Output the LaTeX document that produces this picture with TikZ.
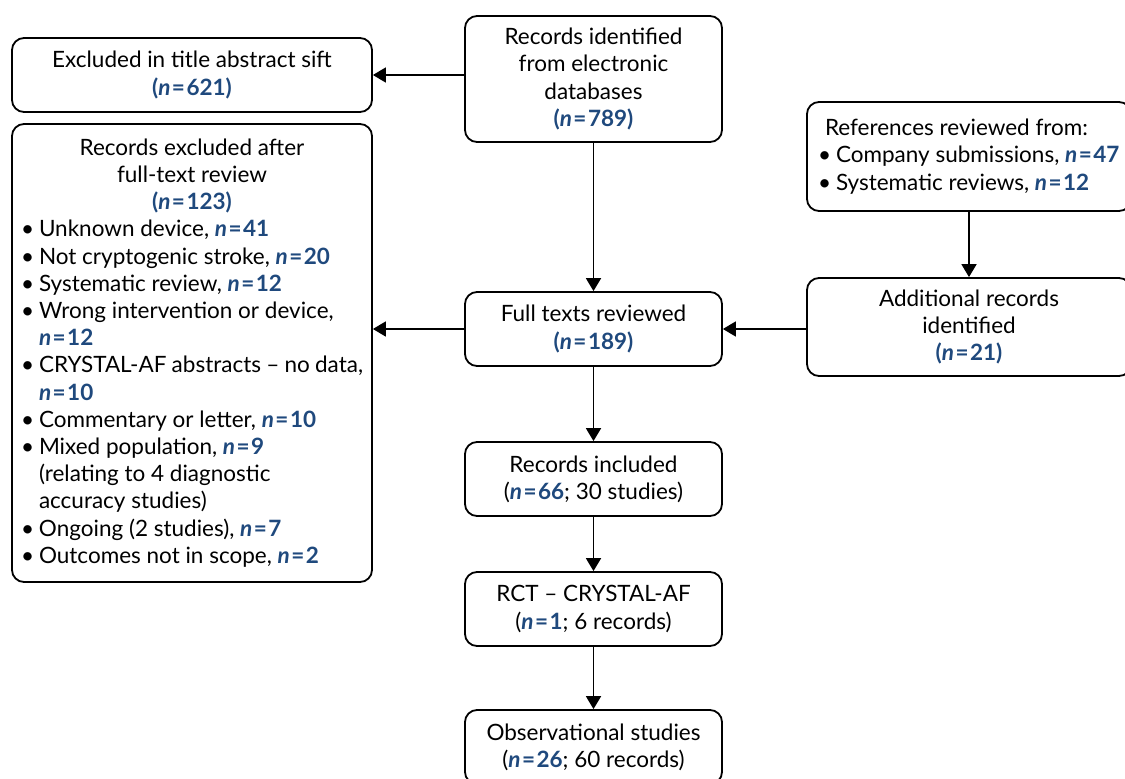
\documentclass[tikz,border=0pt]{standalone}
\usepackage{fontspec}
\setmainfont{Lato}
\usetikzlibrary{arrows.meta}
\definecolor{nblue}{RGB}{31,73,125}
\newcommand{\nv}[1]{{\color{nblue}\bfseries\textit{n}\hspace{1.5pt}=\hspace{1.5pt}#1}}
\newcommand{\pnv}[1]{{\color{nblue}\bfseries(\textit{n}\hspace{1.5pt}=\hspace{1.5pt}#1)}}
\newcommand{\bul}{\makebox[18pt][l]{•}}
\newcommand{\cont}{\hspace*{18pt}}
\begin{document}
\begin{tikzpicture}[x=1pt,y=-1pt,
  box/.style={draw, line width=1.8pt, rounded corners=12pt, align=center, inner sep=0pt,
    font=\fontsize{22.5}{27.2}\selectfont},
  arr/.style={line width=1.8pt, -{Triangle[width=15pt,length=13pt]}}]
\useasboundingbox (0,0) rectangle (1125,779);
\clip (0,0) rectangle (1125,779);
\node[box, minimum width=360pt, minimum height=74pt] (title) at (192,75)
  {Excluded in title abstract sift\\ \pnv{621}};
\node[box, minimum width=257pt, minimum height=126pt] (top) at (593.5,79)
  {Records identified\\ from electronic\\ databases\\ \pnv{789}};
\node[box, minimum width=324pt, minimum height=109pt] (ref) at (969,156.5)
  {\begin{minipage}{302pt}\raggedright
   \hspace*{7pt}References reviewed from:\\
   \bul Company submissions, \nv{47}\\
   \bul Systematic reviews, \nv{12}
   \end{minipage}};
\node[box, minimum width=360pt, minimum height=458pt] (excl) at (192,353)
  {\begin{minipage}{342pt}
   \centering Records excluded after\\ full-text review\\ \pnv{123}\par
   \raggedright
   \bul Unknown device, \nv{41}\\
   \bul Not cryptogenic stroke, \nv{20}\\
   \bul Systematic review, \nv{12}\\
   \bul Wrong intervention or device,\\
   \cont\nv{12}\\
   \bul CRYSTAL-AF abstracts -- no data,\\
   \cont\nv{10}\\
   \bul Commentary or letter, \nv{10}\\
   \bul Mixed population, \nv{9}\\
   \cont(relating to 4 diagnostic\\
   \cont accuracy studies)\\
   \bul Ongoing (2 studies), \nv{7}\\
   \bul Outcomes not in scope, \nv{2}
   \end{minipage}};
\node[box, minimum width=257pt, minimum height=74pt] (full) at (593.5,329)
  {Full texts reviewed\\ \pnv{189}};
\node[box, minimum width=324pt, minimum height=98pt] (add) at (969,327)
  {Additional records\\ identified\\ \pnv{21}};
\node[box, minimum width=257pt, minimum height=74pt] (incl) at (593.5,479)
  {Records included\\ (\nv{66}; 30 studies)};
\node[box, minimum width=257pt, minimum height=74pt] (rct) at (593.5,609)
  {RCT -- CRYSTAL-AF\\ (\nv{1}; 6 records)};
\node[box, minimum width=257pt, minimum height=74pt] (obs) at (593.5,747)
  {Observational studies\\ (\nv{26}; 60 records)};
\draw[arr] (top.west |- title.east) -- (title.east);
\draw[arr] (top.south) -- (full.north);
\draw[arr] (full.west) -- (full.west -| excl.east);
\draw[arr] (ref.south -| add.north) -- (add.north);
\draw[arr] (full.east -| add.west) -- (full.east);
\draw[arr] (full.south) -- (incl.north);
\draw[arr] (incl.south) -- (rct.north);
\draw[arr] (rct.south) -- (obs.north);
\end{tikzpicture}
\end{document}
